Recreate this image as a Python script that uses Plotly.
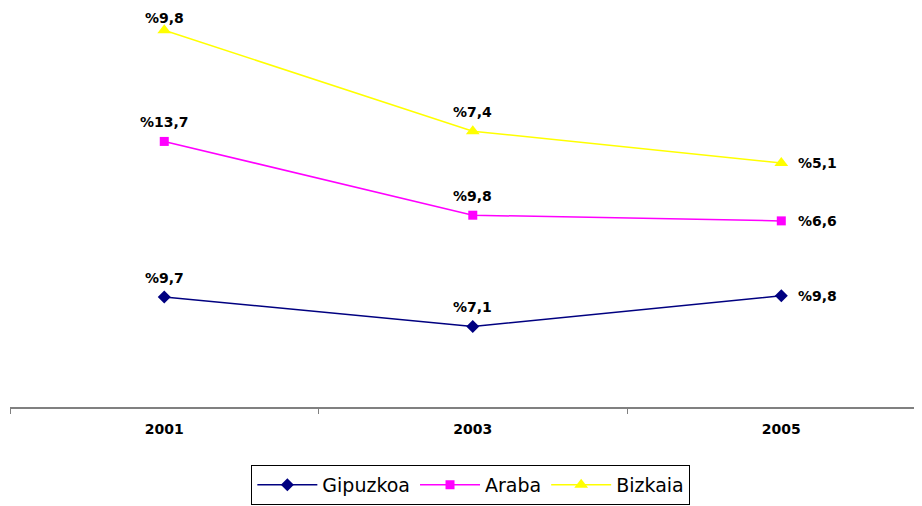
import plotly.graph_objects as go

years = ["2001", "2003", "2005"]
gipuzkoa = [9.7, 7.1, 9.8]
araba = [13.7, 9.8, 6.6]
bizkaia = [9.8, 7.4, 5.1]

def fmt(v):
    return "%" + f"{v:.1f}".replace(".", ",")

series = [
    ("Gipuzkoa", gipuzkoa, "#000080", "diamond", 10),
    ("Araba", araba, "#FF00FF", "square", 9),
    ("Bizkaia", bizkaia, "#FFFF00", "triangle-up", 12),
]

fig = go.Figure()
cum = [0.0] * len(years)
for name, vals, color, sym, size in series:
    fig.add_trace(go.Scatter(
        x=years, y=vals, name=name, mode="lines+markers",
        stackgroup="one", fill="none",
        line=dict(color=color, width=1.5),
        marker=dict(symbol=sym, size=size, color=color),
        cliponaxis=False,
        hoverinfo="skip",
    ))
    cum = [c + v for c, v in zip(cum, vals)]
    for i, v in enumerate(vals):
        last = i == len(years) - 1
        top_edge = (name == "Bizkaia" and i == 0)
        fig.add_annotation(
            x=i, y=cum[i], xref="x", yref="y", text=fmt(v), showarrow=False,
            xanchor="left" if last else "center",
            yanchor="middle",
            xshift=15 if last else 0,
            yshift=0 if last else (12 if top_edge else 19),
            font=dict(family="DejaVu Sans", size=14, color="black", weight="bold"),
        )

fig.update_layout(
    width=922, height=506,
    margin=dict(l=2, r=0, t=12, b=107),
    plot_bgcolor="white", paper_bgcolor="white",
    font=dict(family="DejaVu Sans", color="black"),
    xaxis=dict(
        type="category", range=[-0.5, 2.482], tickson="boundaries",
        ticks="outside", ticklen=5, tickcolor="#808080",
        showline=True, linecolor="#808080", linewidth=2,
        showgrid=False, zeroline=False,
        tickfont=dict(size=14, weight="bold", family="DejaVu Sans"),
        ticklabelstandoff=8,
    ),
    yaxis=dict(range=[0, 34.1], visible=False, showgrid=False, zeroline=False),
    showlegend=True,
    legend=dict(
        orientation="h", xref="container", yref="container",
        x=0.502, xanchor="center", y=0.018, yanchor="bottom",
        bordercolor="black", borderwidth=1,
        font=dict(size=19, family="DejaVu Sans"),
        itemwidth=60,
    ),
)

fig.write_html("out.html")
